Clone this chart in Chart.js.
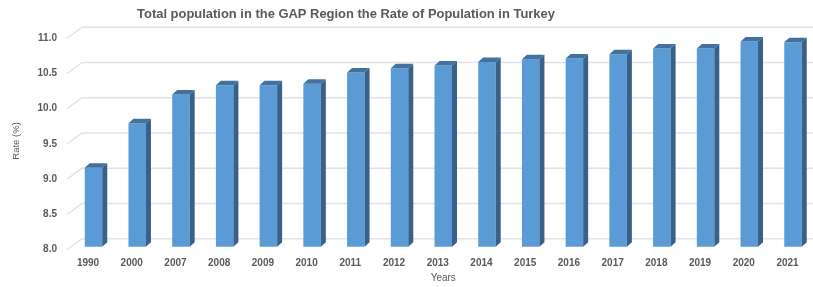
<!DOCTYPE html>
<html>
<head>
<meta charset="utf-8">
<script src="https://cdn.jsdelivr.net/npm/chart.js@4/dist/chart.umd.min.js"></script>
<style>
  html, body { margin: 0; padding: 0; background: #ffffff; }
  #wrap { width: 813px; height: 287px; position: relative; }
</style>
</head>
<body>
<div id="wrap"><canvas id="c"></canvas></div>
<script>
// ---- data ----
const categories = ['1990','2000','2007','2008','2009','2010','2011','2012','2013','2014','2015','2016','2017','2018','2019','2020','2021'];
const rateValues = [9.12, 9.75, 10.16, 10.29, 10.29, 10.31, 10.47, 10.53, 10.57, 10.62, 10.66, 10.67, 10.73, 10.81, 10.81, 10.91, 10.90];
const yTickValues = [8.0, 8.5, 9.0, 9.5, 10.0, 10.5, 11.0];
const yMin = 8.0, yMax = 11.0, yStep = 0.5;
const titleText = 'Total population in the GAP Region the Rate of Population in Turkey';
const xTitleText = 'Years';
const yTitleText = 'Rate (%)';

// ---- styles ----
const TEXT = '#595959';
const FAMILY = "'Liberation Sans', Arial, sans-serif";
const TITLE_FAMILY = "'Liberation Sans Narrow', 'Liberation Sans', Arial, sans-serif";
const Y_LABEL_SHIFT = 3;
const WALL_DX = 15, WALL_DY = 11;
const BAR_DX = 5, BAR_DY = 4.5;

function fitTitleSize(target) {
  const c = document.createElement('canvas').getContext('2d');
  c.font = 'bold 20px ' + TITLE_FAMILY;
  return 20 * target / c.measureText(titleText).width;
}
const titleSize = fitTitleSize(418);

const wallPlugin = {
  id: 'wall',
  beforeDatasetsDraw(chart) {
    const ys = chart.scales.y, ctx = chart.ctx, area = chart.chartArea;
    ctx.save();
    ctx.strokeStyle = '#e2e2e2';
    ctx.lineWidth = 1.4;
    yTickValues.forEach(v => {
      const py = ys.getPixelForValue(v) + Y_LABEL_SHIFT;
      const x0 = area.left - 26.5;
      ctx.beginPath();
      ctx.moveTo(x0, py);
      ctx.lineTo(x0 + WALL_DX, py - WALL_DY);
      ctx.lineTo(chart.width, py - WALL_DY);
      ctx.stroke();
    });
    ctx.restore();
  }
};

const bar3dPlugin = {
  id: 'bar3d',
  afterDatasetsDraw(chart) {
    const ctx = chart.ctx;
    const meta = chart.getDatasetMeta(0);
    ctx.save();
    meta.data.forEach(el => {
      const p = el.getProps(['x', 'y', 'base', 'width'], true);
      const l = p.x - p.width / 2, r = p.x + p.width / 2;
      ctx.fillStyle = '#386089';
      ctx.beginPath();
      ctx.moveTo(r, p.y);
      ctx.lineTo(r + BAR_DX, p.y - BAR_DY);
      ctx.lineTo(r + BAR_DX, p.base - BAR_DY);
      ctx.lineTo(r, p.base);
      ctx.closePath();
      ctx.fill();
      ctx.fillStyle = '#41719c';
      ctx.beginPath();
      ctx.moveTo(l, p.y);
      ctx.lineTo(l + BAR_DX, p.y - BAR_DY);
      ctx.lineTo(r + BAR_DX, p.y - BAR_DY);
      ctx.lineTo(r, p.y);
      ctx.closePath();
      ctx.fill();
    });
    ctx.restore();
  }
};

const titleShiftPlugin = {
  id: 'titleShift',
  afterLayout(chart) {
    const t = chart.titleBlock;
    if (t) { t.left = 0; t.right = 692; }
  }
};

new Chart(document.getElementById('c'), {
  type: 'bar',
  data: {
    labels: categories,
    datasets: [{
      label: 'Rate (%)',
      data: rateValues,
      base: yMin,
      backgroundColor: '#5b9bd5',
      borderWidth: 0,
      categoryPercentage: 1.0,
      barPercentage: 0.4,
      clip: false
    }]
  },
  options: {
    responsive: true,
    maintainAspectRatio: false,
    animation: false,
    devicePixelRatio: 1,
    layout: { padding: { left: 0, right: 20, top: 0, bottom: 0 } },
    plugins: {
      legend: { display: false },
      tooltip: { enabled: false },
      title: {
        display: true,
        text: titleText,
        color: TEXT,
        font: { family: TITLE_FAMILY, size: titleSize, weight: 'bold', lineHeight: 1.2 },
        padding: { top: 14 - 0.6 * titleSize, bottom: 21.2 - 0.6 * titleSize }
      }
    },
    scales: {
      x: {
        offset: false,
        grid: { display: false, drawTicks: false },
        border: { display: false },
        afterFit(scale) { scale.height = 40.3; scale.paddingLeft = 0; scale.paddingRight = 0; },
        ticks: {
          color: TEXT,
          font: { family: FAMILY, size: 10, weight: 'bold', lineHeight: 1.2 },
          padding: 10.6,
          labelOffset: -5.5,
          maxRotation: 0,
          autoSkip: false
        },
        title: {
          display: true,
          text: xTitleText,
          color: TEXT,
          font: { family: FAMILY, size: 10, lineHeight: 1.2 },
          padding: { top: 2.7, bottom: 3 }
        }
      },
      y: {
        min: yMin,
        max: yMax,
        beginAtZero: false,
        grid: { display: false, drawTicks: false },
        border: { display: false },
        afterFit(scale) { scale.width = 93.5; scale.paddingTop = 0; scale.paddingBottom = 0; },
        ticks: {
          stepSize: yStep,
          color: TEXT,
          font: { family: FAMILY, size: 10, weight: 'bold', lineHeight: 1.2 },
          padding: 36.5,
          labelOffset: Y_LABEL_SHIFT,
          callback: v => Number(v).toFixed(1)
        },
        title: {
          display: true,
          text: yTitleText,
          color: TEXT,
          font: { family: FAMILY, size: 9.5, lineHeight: 1.2 },
          padding: { top: 11, bottom: 0 }
        }
      }
    }
  },
  plugins: [wallPlugin, bar3dPlugin, titleShiftPlugin]
});
</script>
</body>
</html>
